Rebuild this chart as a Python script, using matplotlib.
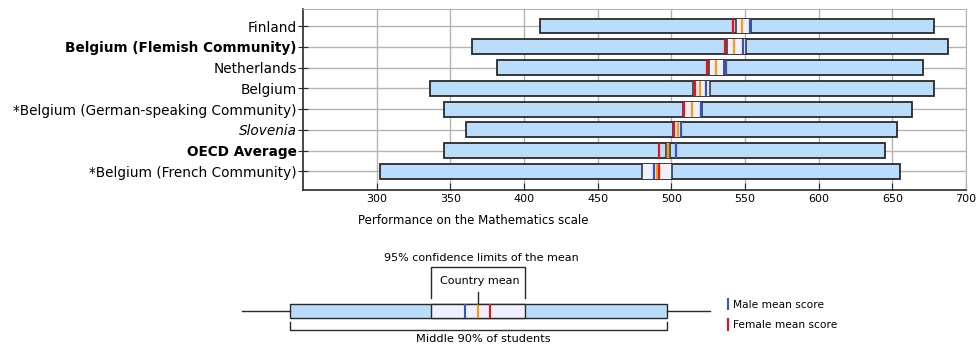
import matplotlib.pyplot as plt
from matplotlib.patches import Rectangle

# Mathematics scores per country
countries = ["Finland", "Belgium (Flemish Community)", "Netherlands", "Belgium",
             "*Belgium (German-speaking Community)", "Slovenia", "OECD Average",
             "*Belgium (French Community)"]
label_style = ["normal", "bold", "normal", "normal", "normal", "italic", "bold", "normal"]
p5 = [411, 365, 382, 336, 345.5, 360.5, 345.5, 302]
p95 = [678, 687.5, 671, 678, 663.5, 653.5, 645, 655]
ci_lo = [544, 537.5, 525.3, 515, 507.7, 501.4, 496.6, 480.4]
ci_hi = [554, 550.7, 535.6, 526.2, 520.7, 506.8, 499.3, 500.7]
mean = [547.8, 542.8, 530.2, 519.6, 514, 504.7, 497.6, 490]
male = [553.5, 548.4, 536.8, 523.2, 519.9, 506.3, 503, 488.5]
female = [542.2, 536.7, 524.1, 515.8, 508.8, 501.8, 491.9, 491.5]

BAR_C = "#bbddfc"
CI_C = "#eef0fb"
EDGE = "#2a2a2a"
RED = "#ee1111"
ORANGE = "#ff9911"
BLUE = "#3355cc"

fig = plt.figure(figsize=(9.79, 3.49), dpi=100)
ax = fig.add_axes([0.3095, 0.4556, 0.6772, 0.5186])

h = 0.72
for i in range(len(countries)):
    ax.add_patch(Rectangle((p5[i], i - h / 2), p95[i] - p5[i], h,
                           facecolor=BAR_C, edgecolor=EDGE, lw=1.3, zorder=3))
    ax.add_patch(Rectangle((ci_lo[i], i - h / 2), ci_hi[i] - ci_lo[i], h,
                           facecolor=CI_C, edgecolor="none", zorder=4))
    ax.vlines([ci_lo[i], ci_hi[i]], i - h / 2, i + h / 2, color=EDGE, lw=1.1, zorder=5)
    ax.vlines(male[i], i - h / 2, i + h / 2, color=BLUE, lw=1.6, zorder=6)
    ax.vlines(female[i], i - h / 2, i + h / 2, color=RED, lw=1.6, zorder=6)
    ax.vlines(mean[i], i - h / 2, i + h / 2, color=ORANGE, lw=1.6, zorder=6)

ax.set_xlim(250, 700)
ax.set_ylim(len(countries) - 1 + 0.9, -0.82)
ax.set_xticks(range(300, 701, 50))
ax.set_yticks(range(len(countries)))
ax.set_yticklabels(countries, fontsize=9.8)
for lab, st in zip(ax.get_yticklabels(), label_style):
    if st == "bold":
        lab.set_fontweight("bold")
    elif st == "italic":
        lab.set_fontstyle("italic")
ax.tick_params(axis="x", direction="in", length=5, labelsize=8, pad=3, color=EDGE)
ax.tick_params(axis="y", direction="inout", length=7, pad=1, color=EDGE)
ax.grid(True, color="#b3b3b3", lw=1, zorder=0)
ax.set_axisbelow(True)
for s in ["top", "right"]:
    ax.spines[s].set_color("#b3b3b3")
for s in ["left", "bottom"]:
    ax.spines[s].set_color(EDGE)
    ax.spines[s].set_linewidth(1.2)
ax.set_xlabel("Performance on the Mathematics scale", fontsize=8.5, loc="left", labelpad=5)
ax.xaxis.set_label_coords(0.083, -0.135)

# key diagram below the chart (pixel-like units)
key = fig.add_axes([0, 0, 1, 1])
key.set_xlim(0, 979)
key.set_ylim(349, 0)
key.axis("off")
band = (290, 667)
ci = (431, 525)
k_male, k_mean, k_female = 465, 478, 490
ky0, ky1 = 304, 318
key.plot([242, band[0]], [311, 311], color=EDGE, lw=1)
key.plot([band[1], 710], [311, 311], color=EDGE, lw=1)
key.add_patch(Rectangle((band[0], ky0), band[1] - band[0], ky1 - ky0,
                        facecolor=BAR_C, edgecolor=EDGE, lw=1))
key.add_patch(Rectangle((ci[0], ky0), ci[1] - ci[0], ky1 - ky0,
                        facecolor=CI_C, edgecolor=EDGE, lw=1))
key.vlines(k_male, ky0, ky1, color=BLUE, lw=1.5)
key.vlines(k_mean, ky0, ky1, color=ORANGE, lw=1.5)
key.vlines(k_female, ky0, ky1, color=RED, lw=1.5)
key.plot([ci[0], ci[0], ci[1], ci[1]], [298, 267, 267, 298], color=EDGE, lw=1)
key.plot([k_mean, k_mean], [292, ky0], color=EDGE, lw=1)
key.plot([band[0], band[0], band[1], band[1]], [322, 330, 330, 322], color=EDGE, lw=1)
key.text(481, 258, "95% confidence limits of the mean", fontsize=8, ha="center", va="center")
key.text(480, 281, "Country mean", fontsize=8, ha="center", va="center")
key.text(483, 339, "Middle 90% of students", fontsize=8.2, ha="center", va="center")
key.vlines(728, 298, 310, color=BLUE, lw=1.5)
key.vlines(728, 318, 331, color=RED, lw=1.5)
key.text(733, 304.5, "Male mean score", fontsize=7.7, ha="left", va="center")
key.text(733, 325, "Female mean score", fontsize=7.7, ha="left", va="center")

fig.savefig("out.png", dpi=100)
